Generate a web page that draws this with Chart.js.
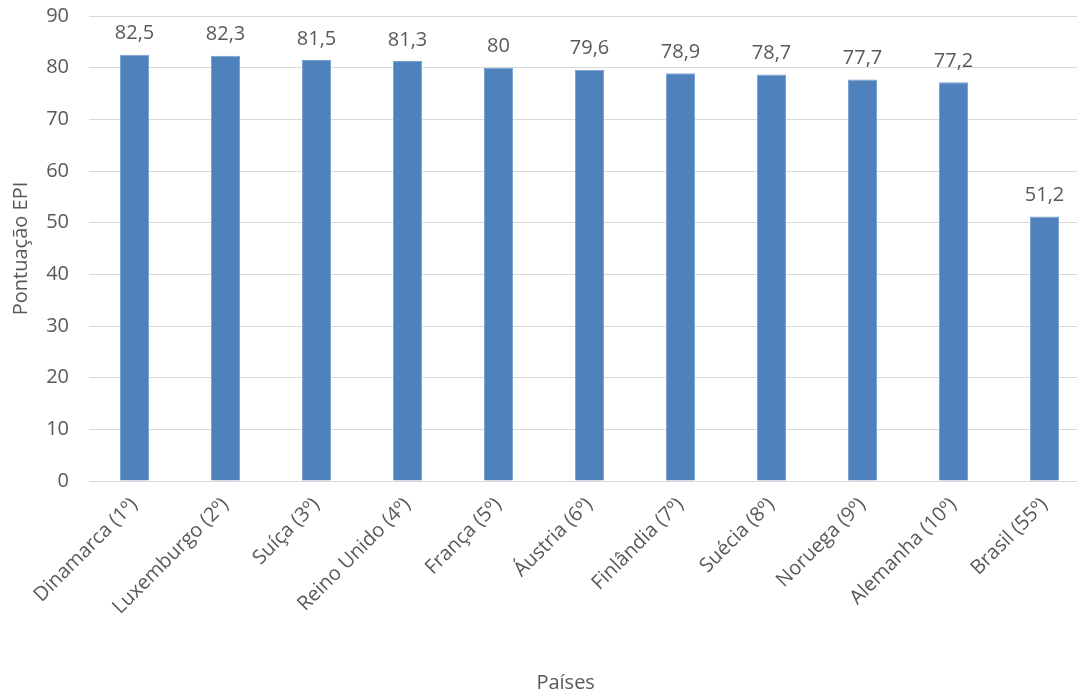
<!DOCTYPE html>
<html>
<head>
<meta charset="utf-8">
<script src="https://cdn.jsdelivr.net/npm/chart.js@4"></script>
<style>
  html, body { margin: 0; padding: 0; background: #ffffff; overflow: hidden; }
  #wrap { width: 1092px; height: 693px; }
</style>
</head>
<body>
<div id="wrap"><canvas id="c" width="1092" height="693"></canvas></div>
<script>
// EPI scores by country (ranking in parentheses)
const paises = ['Dinamarca (1º)', 'Luxemburgo (2º)', 'Suíça (3º)', 'Reino Unido (4º)', 'França (5º)',
                'Áustria (6º)', 'Finlândia (7º)', 'Suécia (8º)', 'Noruega (9º)', 'Alemanha (10º)', 'Brasil (55º)'];
const pontuacao = [82.5, 82.3, 81.5, 81.3, 80, 79.6, 78.9, 78.7, 77.7, 77.2, 51.2];
const yMin = 0, yMax = 90, yStep = 10;
const xTitle = 'Países';
const yTitle = 'Pontuação EPI';

const FONT = "'Open Sans', 'Liberation Sans', sans-serif";
const TEXT = '#595959';
const SIZE = 20;

const formatBR = v => String(v).replace('.', ',');

// value labels above each bar, plus the category axis title
const valueLabels = {
  id: 'valueLabels',
  afterDatasetsDraw(chart) {
    const ctx = chart.ctx;
    const meta = chart.getDatasetMeta(0);
    ctx.save();
    ctx.font = SIZE + 'px ' + FONT;
    ctx.fillStyle = TEXT;
    ctx.textAlign = 'center';
    ctx.textBaseline = 'bottom';
    meta.data.forEach((bar, i) => {
      ctx.fillText(formatBR(chart.data.datasets[0].data[i]), bar.x, bar.y - 11);
    });
    // axis title, centred under the visible part of the chart
    ctx.textBaseline = 'middle';
    ctx.fillText(xTitle, chart.width * 0.518, chart.height - 10);
    ctx.restore();
  }
};

new Chart(document.getElementById('c'), {
  type: 'bar',
  data: {
    labels: paises,
    datasets: [{
      data: pontuacao,
      backgroundColor: '#4f81bd',
      borderColor: '#7aa0d0',
      borderWidth: 1,
      barPercentage: 1,
      categoryPercentage: 0.32
    }]
  },
  options: {
    responsive: false,
    animation: false,
    layout: { padding: { top: 16, right: 2, bottom: 0, left: 0 } },
    plugins: { legend: { display: false }, tooltip: { enabled: false } },
    scales: {
      x: {
        grid: { display: false },
        border: { color: '#d9d9d9', width: 1 },
        ticks: {
          color: TEXT,
          font: { family: FONT, size: SIZE },
          maxRotation: 45, minRotation: 45,
          padding: 4
        },
        title: { display: false },
        afterFit(scale) { scale.height = 212; }
      },
      y: {
        min: yMin, max: yMax,
        grid: { color: '#d9d9d9', lineWidth: 1, drawTicks: false },
        border: { display: false },
        ticks: {
          stepSize: yStep,
          color: TEXT,
          font: { family: FONT, size: SIZE },
          padding: 20
        },
        title: {
          display: true, text: yTitle, color: TEXT,
          font: { family: FONT, size: SIZE },
          padding: { top: 9, bottom: 0 }
        },
        afterFit(scale) {
          scale.width = 89;
          scale.paddingTop = 0;
          scale.paddingBottom = 0;
        }
      }
    }
  },
  plugins: [valueLabels]
});
</script>
</body>
</html>
